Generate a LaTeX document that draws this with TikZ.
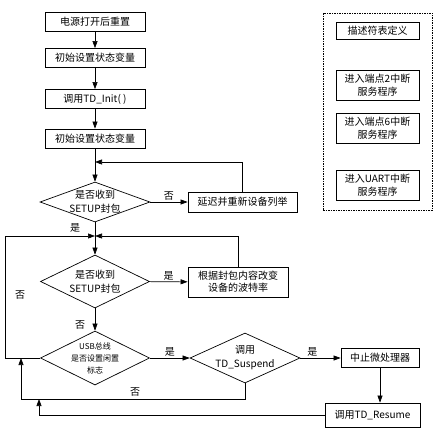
\documentclass[tikz,border=0pt]{standalone}
\usepackage{fontspec}
\setmainfont{Noto Sans CJK SC}
\usetikzlibrary{shapes.geometric, arrows.meta, positioning}
\tikzset{
  basebox/.style={rectangle, draw=black, line width=0.8pt, align=center,
    font=\fontsize{10}{13}\selectfont, inner sep=1pt},
  stepbox/.style={basebox, minimum width=100pt, minimum height=19pt},
  sidebox/.style={basebox, minimum width=83pt},
  decisionbox/.style={diamond, draw=black, line width=0.7pt, inner sep=0pt},
  dectext/.style={align=center, font=\fontsize{10}{14}\selectfont},
  framebox/.style={rectangle, draw=black, line width=0.7pt, dash pattern=on 1.5pt off 1pt},
  arrow/.style={-{Triangle[length=7pt,width=5pt]}, line width=0.6pt},
  plainline/.style={line width=0.6pt},
  lbl/.style={font=\fontsize{10}{12}\selectfont, inner sep=1pt}
}
\begin{document}
\begin{tikzpicture}[x=1pt, y=-1pt]
  \useasboundingbox (0,0) rectangle (438,428);
  % main flow
  \node[stepbox] (reset) at (95,21.5) {电源打开后重置};
  \node[stepbox] (init1) at (95,58) {初始设置状态变量};
  \node[stepbox] (tdinit) at (95,99) {调用TD\_Init( )};
  \node[stepbox] (init2) at (95,138.5) {初始设置状态变量};
  \node[decisionbox, minimum width=110pt, minimum height=40pt,
        label={[dectext]center:{是否收到\\SETUP封包}}] (setup1) at (95,202) {};
  \node[basebox, minimum width=109pt, minimum height=20pt] (delay) at (242.5,202)
        {延迟并重新设备列举};
  \node[decisionbox, minimum width=109pt, minimum height=53pt,
        label={[dectext]center:{是否收到\\SETUP封包}}] (setup2) at (95,281.5) {};
  \node[basebox, minimum width=100pt, minimum height=30pt,
        font=\fontsize{10}{12}\selectfont] (baud) at (238,282)
        {根据封包内容改变\\设备的波特率};
  \node[decisionbox, minimum width=109pt, minimum height=54pt,
        label={[dectext, font=\fontsize{8}{12}\selectfont]center:{USB总线\\是否设置闲置\\标志}}]
        (idle) at (95,358) {};
  \node[decisionbox, minimum width=110pt, minimum height=50pt,
        label={[dectext]center:{调用\\TD\_Suspend}}] (suspend) at (245,358) {};
  \node[basebox, minimum width=78pt, minimum height=19pt] (halt) at (380,358) {中止微处理器};
  \node[basebox, minimum width=95pt, minimum height=24pt] (resume) at (372.5,415)
        {调用TD\_Resume};

  % interrupt routines
  \node[framebox, minimum width=109pt, minimum height=197pt] (frame) at (377.5,111.5) {};
  \node[sidebox, minimum height=17pt] (desc) at (377.5,30.5) {描述符表定义};
  \node[sidebox, minimum height=30pt] (ep2) at (377.5,85) {进入端点2中断\\服务程序};
  \node[sidebox, minimum height=30pt] (ep6) at (377.5,128) {进入端点6中断\\服务程序};
  \node[sidebox, minimum height=30pt] (uart) at (377.5,185) {进入UART中断\\服务程序};

  % joins
  \coordinate (m1) at (95,162);
  \coordinate (m2) at (95,236);
  \coordinate (loopL) at (5,236);
  \coordinate (c1) at (21,399);
  \coordinate (ret1) at (21,358);
  \coordinate (ret2) at (39,399);

  \draw[arrow] (reset) -- (init1);
  \draw[arrow] (init1) -- (tdinit);
  \draw[arrow] (tdinit) -- (init2);
  \draw[arrow] (init2) -- (setup1);
  \draw[arrow] (setup1) -- node[lbl, above] (no1) {否} (delay);
  \draw[arrow] (delay.north) |- (m1);
  \draw[plainline] (setup1.south) -- (m2);
  \draw[arrow] (m2) -- (setup2);
  \draw[arrow] (baud.north) |- (m2);
  \draw[arrow] (setup2) -- node[lbl, above] (yes2) {是} (baud);
  \draw[arrow] (setup2) -- (idle);
  \draw[arrow] (idle.west) -| (loopL) -- (m2);
  \draw[arrow] (idle) -- node[lbl, above] (yes3) {是} (suspend);
  \draw[arrow] (suspend) -- node[lbl, above, pos=0.3] (yes4) {是} (halt);
  \draw[arrow] (halt.south) -- (halt.south |- resume.north);
  \draw[plainline] (suspend.south) |- (c1);
  \draw[arrow] (c1) -- (ret1);
  \draw[arrow] (resume.west) -| (ret2);

  \node[lbl] (yes1) at (75,228) {是};
  \node[lbl] (no2) at (20,295) {否};
  \node[lbl] (no3) at (80,325) {否};
  \node[lbl] (no4) at (135,392) {否};
\end{tikzpicture}
\end{document}
